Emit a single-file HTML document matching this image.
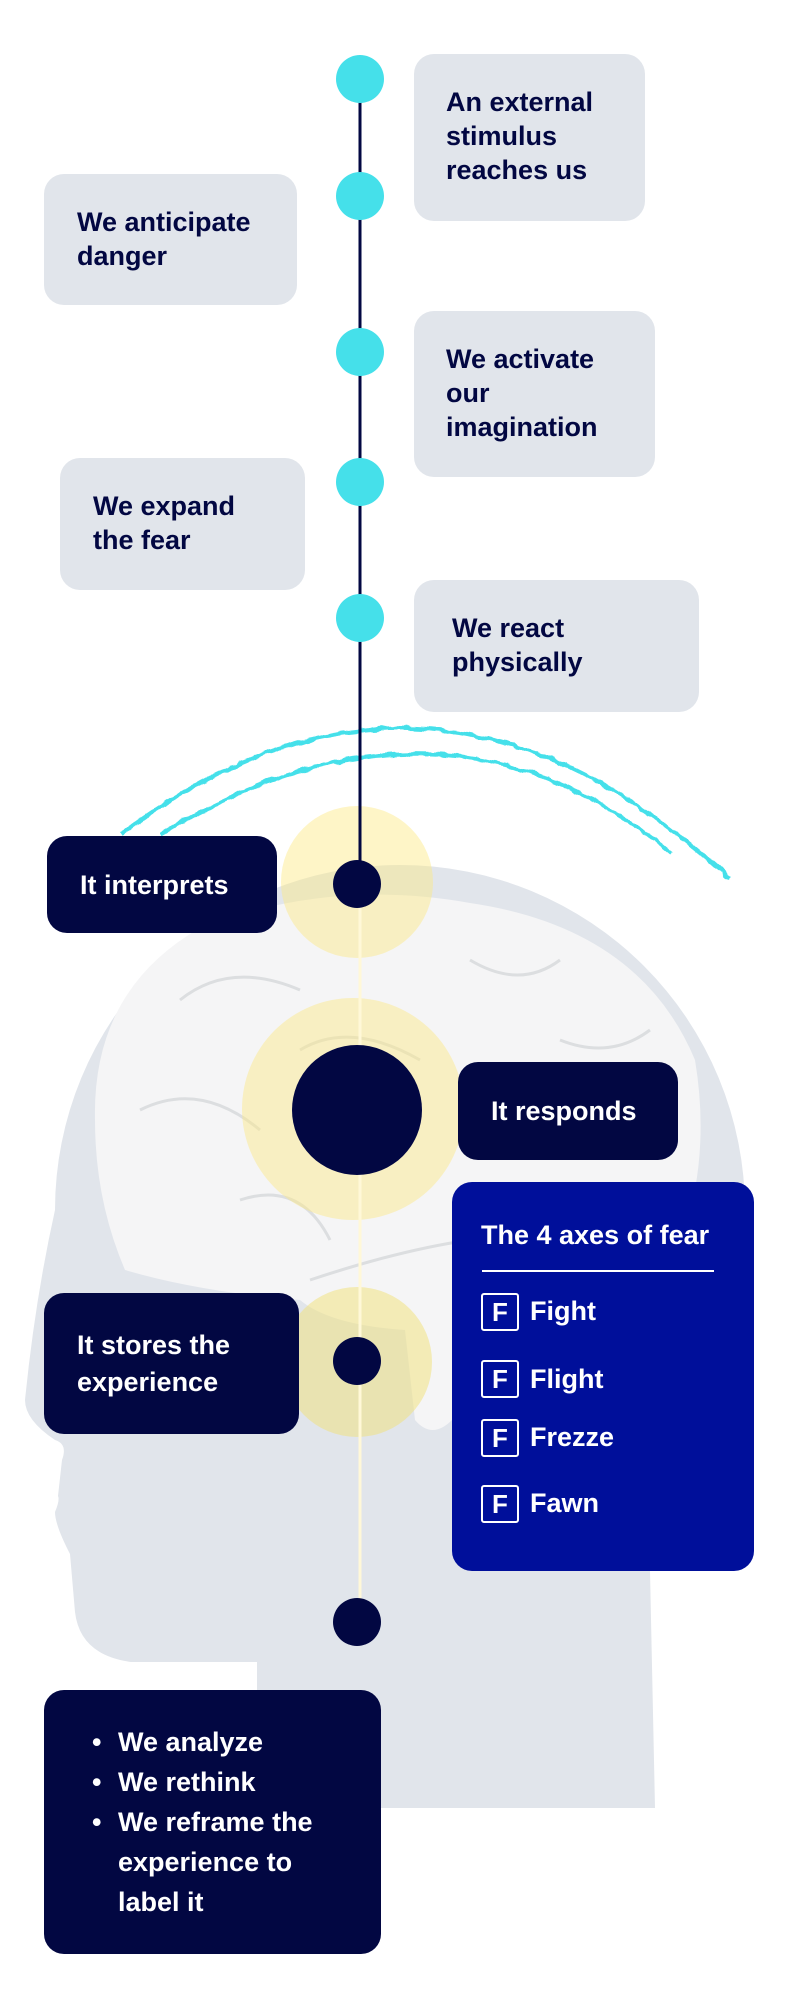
<!DOCTYPE html>
<html><head><meta charset="utf-8"><style>
html,body{margin:0;padding:0;background:#fff;}
body{width:790px;height:2004px;position:relative;overflow:hidden;font-family:"Liberation Sans",sans-serif;font-weight:bold;}
.b{position:absolute;border-radius:20px;box-sizing:border-box;}
.g{background:#e1e5eb;color:#020742;font-size:27px;line-height:34px;}
.n{background:#020742;color:#fff;font-size:27px;}
.t{position:absolute;white-space:nowrap;}
svg{position:absolute;left:0;top:0;}
.f{position:absolute;left:481px;width:34px;height:34px;border:2px solid #fff;border-radius:3px;color:#fff;font-size:26px;line-height:34px;text-align:center;}
.fl{position:absolute;left:530px;color:#fff;font-size:27px;}
</style></head><body>
<svg width="790" height="2004" viewBox="0 0 790 2004">
<defs>
<filter id="w" x="-10%" y="-50%" width="120%" height="200%">
<feTurbulence type="fractalNoise" baseFrequency="0.08" numOctaves="2" seed="3"/>
<feDisplacementMap in="SourceGraphic" scale="6" xChannelSelector="R" yChannelSelector="G"/>
</filter>
</defs>
<path d="M55,1210 A345,345 0 0 1 745,1210 L745,1420 Q745,1520 650,1571 L655,1808 L257,1808 L257,1662 L131,1662 Q80,1655 75,1612 L70,1554 Q55,1525 55,1512 Q60,1500 58,1496 L62,1460 Q68,1444 55,1440 Q25,1420 25,1400 Q35,1300 55,1210 Z" fill="#e1e5eb"/>
<path d="M95,1120 Q92,990 200,928 Q330,878 470,903 Q640,928 695,1060 Q710,1150 685,1230 L600,1300 Q540,1330 470,1335 L452,1420 Q432,1440 415,1420 L405,1330 Q330,1325 300,1300 Q200,1292 125,1270 Q95,1200 95,1120 Z" fill="#f5f5f6"/>
<path d="M180,1000 Q230,960 300,990 M140,1110 Q200,1080 260,1130 M300,1050 Q350,1020 420,1060 M470,960 Q520,990 560,960 M560,1040 Q610,1060 650,1030 M240,1200 Q300,1180 330,1240 M310,1280 Q400,1250 470,1240 Q560,1220 640,1200 M490,1260 Q520,1300 600,1290" fill="none" stroke="#dcdee0" stroke-width="3"/>
<path d="M121,834 Q431,602 730,879" fill="none" stroke="#45e0ea" stroke-width="4" filter="url(#w)"/>
<path d="M161,834 Q445,664 672,854" fill="none" stroke="#45e0ea" stroke-width="4" filter="url(#w)"/>
<circle cx="357" cy="882" r="76" fill="rgba(252,232,130,0.45)"/>
<circle cx="353" cy="1109" r="111" fill="rgba(252,232,130,0.45)"/>
<circle cx="357" cy="1362" r="75" fill="rgba(240,225,130,0.55)"/>
<line x1="360" y1="79" x2="360" y2="884" stroke="#020742" stroke-width="3"/>
<line x1="360" y1="884" x2="360" y2="1600" stroke="#fff8d8" stroke-width="3"/>
<g fill="#45e0ea"><circle cx="360" cy="79" r="24"/><circle cx="360" cy="196" r="24"/><circle cx="360" cy="352" r="24"/><circle cx="360" cy="482" r="24"/><circle cx="360" cy="618" r="24"/></g>
<g fill="#020742"><circle cx="357" cy="884" r="24"/><circle cx="357" cy="1110" r="65"/><circle cx="357" cy="1361" r="24"/><circle cx="357" cy="1622" r="24"/></g>
</svg>

<div class="b g" style="left:414px;top:54px;width:231px;height:167px;"><div class="t" style="left:32px;top:31px;">An external<br>stimulus<br>reaches us</div></div>
<div class="b g" style="left:44px;top:174px;width:253px;height:131px;"><div class="t" style="left:33px;top:31px;">We anticipate<br>danger</div></div>
<div class="b g" style="left:414px;top:311px;width:241px;height:166px;"><div class="t" style="left:32px;top:31px;">We activate<br>our<br>imagination</div></div>
<div class="b g" style="left:60px;top:458px;width:245px;height:132px;"><div class="t" style="left:33px;top:31px;">We expand<br>the fear</div></div>
<div class="b g" style="left:414px;top:580px;width:285px;height:132px;"><div class="t" style="left:38px;top:31px;">We react<br>physically</div></div>

<div class="b n" style="left:47px;top:836px;width:230px;height:97px;"><div class="t" style="left:33px;top:32px;line-height:34px;">It interprets</div></div>
<div class="b n" style="left:458px;top:1062px;width:220px;height:98px;"><div class="t" style="left:33px;top:32px;line-height:34px;">It responds</div></div>
<div class="b n" style="left:44px;top:1293px;width:255px;height:141px;"><div class="t" style="left:33px;top:34px;line-height:37px;">It stores the<br>experience</div></div>

<div class="b" style="left:452px;top:1182px;width:302px;height:389px;background:#000f9a;">
<div class="t" style="left:29px;top:37px;color:#fff;font-size:27px;line-height:32px;">The 4 axes of fear</div>
<div style="position:absolute;left:30px;top:88px;width:232px;height:2px;background:#fff;"></div>
</div>
<div class="f" style="top:1293px;">F</div><div class="fl t" style="top:1296px;">Fight</div>
<div class="f" style="top:1360px;">F</div><div class="fl t" style="top:1364px;">Flight</div>
<div class="f" style="top:1419px;">F</div><div class="fl t" style="top:1422px;">Frezze</div>
<div class="f" style="top:1485px;">F</div><div class="fl t" style="top:1488px;">Fawn</div>

<div class="b n" style="left:44px;top:1690px;width:337px;height:264px;font-size:27px;line-height:40px;">
<div class="t" style="left:48px;top:32px;">•</div><div class="t" style="left:74px;top:32px;">We analyze<br>We rethink<br>We reframe the<br>experience to<br>label it</div>
<div class="t" style="left:48px;top:72px;">•</div><div class="t" style="left:48px;top:112px;">•</div>
</div>
</body></html>
